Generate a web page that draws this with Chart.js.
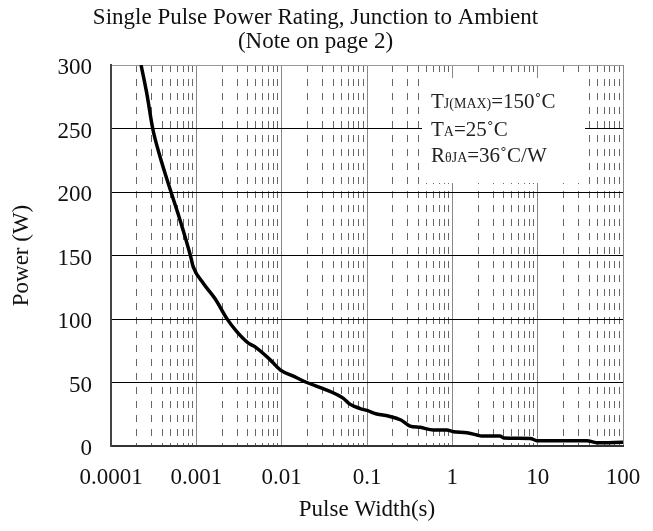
<!DOCTYPE html>
<html>
<head>
<meta charset="utf-8">
<script src="https://cdn.jsdelivr.net/npm/chart.js@4.4.0/dist/chart.umd.min.js"></script>
<style>
  html, body { margin: 0; padding: 0; background: #fff; }
  #wrap { width: 653px; height: 531px; }
</style>
</head>
<body>
<div id="wrap"><canvas id="myChart" width="653" height="531"></canvas></div>
<script>
// values
var pulseWidth = [0.000225, 0.000262, 0.000308, 0.000375, 0.000505, 0.000644, 0.00086, 0.00092,
    0.00121, 0.00166, 0.00227, 0.00298, 0.00407, 0.00488, 0.0073, 0.0096, 0.0137, 0.0197,
    0.0338, 0.0529, 0.063, 0.083, 0.1, 0.13, 0.177, 0.25, 0.32, 0.42, 0.6, 0.86, 1.03,
    1.48, 1.94, 2.2, 3.6, 4.0, 8.2, 9.8, 37.8, 49, 100];
var power = [300, 278, 250, 228, 200, 178, 149, 141,
    128, 116, 100.5, 90, 81, 78, 68, 60, 55, 50,
    44, 37.5, 33, 29.5, 28, 25.2, 23.6, 20.5, 15.7, 14.7, 12.6, 12.6, 11.3,
    10.5, 8.7, 7.9, 7.9, 6.3, 6.0, 4.2, 4.2, 2.6, 3];

var xMajorTicks = [0.0001, 0.001, 0.01, 0.1, 1, 10, 100];
var xTickLabels = ['0.0001', '0.001', '0.01', '0.1', '1', '10', '100'];
var xMinorSteps = [2, 3, 4, 5, 6, 7, 8, 9];
var yTicks = [0, 50, 100, 150, 200, 250, 300];

var titleLines = ['Single Pulse Power Rating, Junction to Ambient', '(Note on page 2)'];
var noteLines = [
    [['T', 21], ['J(MAX)', 14], ['=150\u02DAC', 21]],
    [['T', 21], ['A', 14], ['=25\u02DAC', 21]],
    [['R', 21], ['\u03B8JA', 14], ['=36\u02DAC/W', 21]]
];

var serif = "'Liberation Serif', 'DejaVu Serif', serif";

var minorTicks = [];
xMajorTicks.slice(0, -1).forEach(function (d) {
    xMinorSteps.forEach(function (s) { minorTicks.push(+(d * s).toPrecision(3)); });
});

// white note box with the junction data, drawn over the grid
var notePlugin = {
    id: 'notePlugin',
    beforeDatasetsDraw: function (chart) {
        var c = chart.ctx;
        var a = chart.chartArea;
        c.save();
        c.fillStyle = '#fff';
        c.fillRect(a.left + 311, a.top + 13, 163, 105);
        c.fillStyle = '#222';
        c.textBaseline = 'alphabetic';
        var baselines = [108, 136, 162];
        noteLines.forEach(function (parts, i) {
            var x = a.left + 320;
            parts.forEach(function (p) {
                c.font = p[1] + 'px ' + serif;
                c.fillText(p[0], x, baselines[i]);
                x += c.measureText(p[0]).width;
            });
        });
        c.restore();
    }
};

var ctx = document.getElementById('myChart').getContext('2d');
var chart = new Chart(ctx, {
    type: 'line',
    data: {
        labels: pulseWidth,
        datasets: [{
            data: pulseWidth.map(function (x, i) { return {x: x, y: power[i]}; }),
            borderColor: '#000',
            borderWidth: 3.5,
            pointRadius: 0,
            cubicInterpolationMode: 'monotone',
            fill: false
        }]
    },
    options: {
        responsive: false,
        animation: false,
        layout: { padding: { left: 8, right: 30, top: 6, bottom: 6 } },
        plugins: {
            legend: { display: false },
            tooltip: { enabled: false },
            title: {
                display: true,
                text: titleLines,
                color: '#111',
                font: { family: serif, size: 23, weight: 'normal', lineHeight: 1.05 },
                padding: { top: 0, bottom: 10.7 }
            }
        },
        scales: {
            x: {
                type: 'logarithmic',
                min: 0.0001,
                max: 100,
                afterBuildTicks: function (s) {
                    s.ticks = xMajorTicks.map(function (v) { return {value: v}; });
                },
                afterFit: function (s) {
                    s.height = 79;
                    s.paddingRight = 0;
                },
                ticks: {
                    autoSkip: false,
                    maxRotation: 0,
                    padding: 18,
                    color: '#111',
                    font: { family: serif, size: 23 },
                    callback: function (v) {
                        var i = xMajorTicks.indexOf(v);
                        return i >= 0 ? xTickLabels[i] : '';
                    }
                },
                grid: { color: '#888', lineWidth: 1, drawTicks: false },
                border: { color: '#333', width: 2 },
                title: {
                    display: true,
                    text: 'Pulse Width(s)',
                    color: '#111',
                    font: { family: serif, size: 23, lineHeight: 1.2 },
                    padding: { top: 0, bottom: 1 }
                }
            },
            xMinor: {
                type: 'logarithmic',
                position: 'bottom',
                min: 0.0001,
                max: 100,
                afterBuildTicks: function (s) {
                    s.ticks = minorTicks.map(function (v) { return {value: v}; });
                },
                afterFit: function (s) { s.height = 0; },
                ticks: { display: false },
                grid: { color: '#666', lineWidth: 1, drawTicks: false },
                border: { display: false, dash: [7, 7] }
            },
            y: {
                type: 'linear',
                min: 0,
                max: 300,
                afterBuildTicks: function (s) {
                    s.ticks = yTicks.map(function (v) { return {value: v}; });
                },
                afterFit: function (s) { s.width = 103; },
                ticks: {
                    padding: 19,
                    labelOffset: 3,
                    color: '#111',
                    font: { family: serif, size: 23 }
                },
                grid: {
                    drawTicks: false,
                    lineWidth: 1,
                    color: function (c) { return c.tick && c.tick.value === 300 ? '#999' : '#000'; }
                },
                border: { color: '#444', width: 2 },
                title: {
                    display: true,
                    text: 'Power (W)',
                    color: '#111',
                    font: { family: serif, size: 23, lineHeight: 1.2 },
                    padding: { top: 0, bottom: 0 }
                }
            }
        }
    },
    plugins: [notePlugin]
});
</script>
</body>
</html>
